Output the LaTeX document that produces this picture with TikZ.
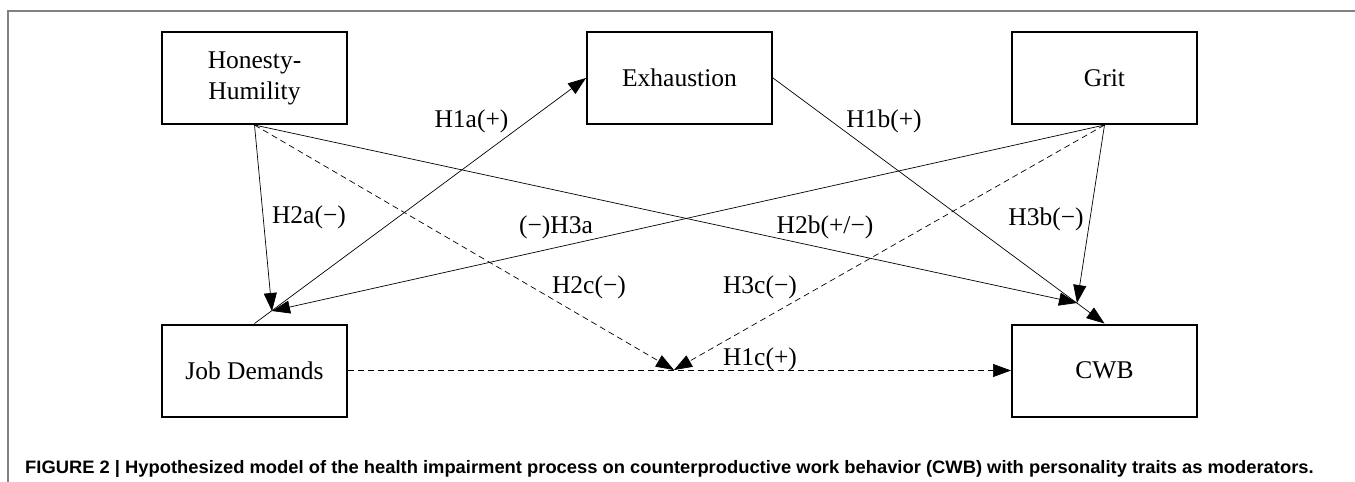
\documentclass[tikz,border=0pt]{standalone}
\usepackage{fontspec}
\setmainfont{Liberation Serif}
\newfontfamily\capfont{Liberation Sans}
\usetikzlibrary{arrows.meta}
\begin{document}
\begin{tikzpicture}[x=1pt,y=-1pt,
  box/.style={draw,line width=2pt,minimum width=185pt,minimum height=92pt,inner sep=0pt,
    font=\fontsize{25.5}{31}\selectfont,align=center},
  con/.style={line width=0.7pt,-{Triangle[length=18pt,width=13pt]}},
  dsh/.style={con,dash pattern=on 6pt off 4pt},
  lab/.style={font=\fontsize{25.5}{28}\selectfont,inner sep=0pt,anchor=base},
  frame/.style={draw=gray,line width=1.8pt}]
\useasboundingbox (0,0) rectangle (1355,482);
\coordinate (ftl) at (8,11);
\coordinate (ftr) at (1355,11);
\coordinate (fbl) at (8,482);
\draw[frame] (ftr) -- (ftl) -- (fbl);

\node[box] (hh) at (254.5,78) {Honesty-\\Humility};
\node[box] (ex) at (679.5,78) {Exhaustion};
\node[box] (grit) at (1104.5,78) {Grit};
\node[box] (jd) at (254.5,370.5) {Job Demands};
\node[box] (cwb) at (1104.5,370.5) {CWB};

\coordinate (c1) at (272,311);
\coordinate (c2) at (1077,303);
\coordinate (c3) at (674,370);

\draw[con] (hh.south) -- (c1);
\draw[con] (grit.south) -- (c1);
\draw[con] (jd.north) -- (ex.west);
\draw[con] (ex.east) -- (cwb.north);
\draw[con] (hh.south) -- (c2);
\draw[con] (grit.south) -- (c2);
\draw[dsh] (hh.south) -- (c3);
\draw[dsh] (grit.south) -- (c3);
\draw[dsh] (jd.east) -- (cwb.west);

\node[lab] (l1a) at (471.5,127) {H1a(+)};
\node[lab] (l1b) at (884,127) {H1b(+)};
\node[lab] (l2a) at (309,223) {H2a(−)};
\node[lab] (l3b) at (1046,225) {H3b(−)};
\node[lab] (l3a) at (556,233) {(−)H3a};
\node[lab] (l2b) at (825,233) {H2b(+/−)};
\node[lab] (l2c) at (589,293) {H2c(−)};
\node[lab] (l3c) at (760,293) {H3c(−)};
\node[lab] (l1c) at (760,365) {H1c(+)};

\node[anchor=base west,inner sep=0pt,font=\capfont\bfseries\fontsize{18}{21}\selectfont] (cap) at (25,473)
  {\scalebox{1.02}[1]{FIGURE 2 \textbar\ Hypothesized model of the health impairment process on counterproductive work behavior (CWB) with personality traits as moderators.}};
\end{tikzpicture}
\end{document}
